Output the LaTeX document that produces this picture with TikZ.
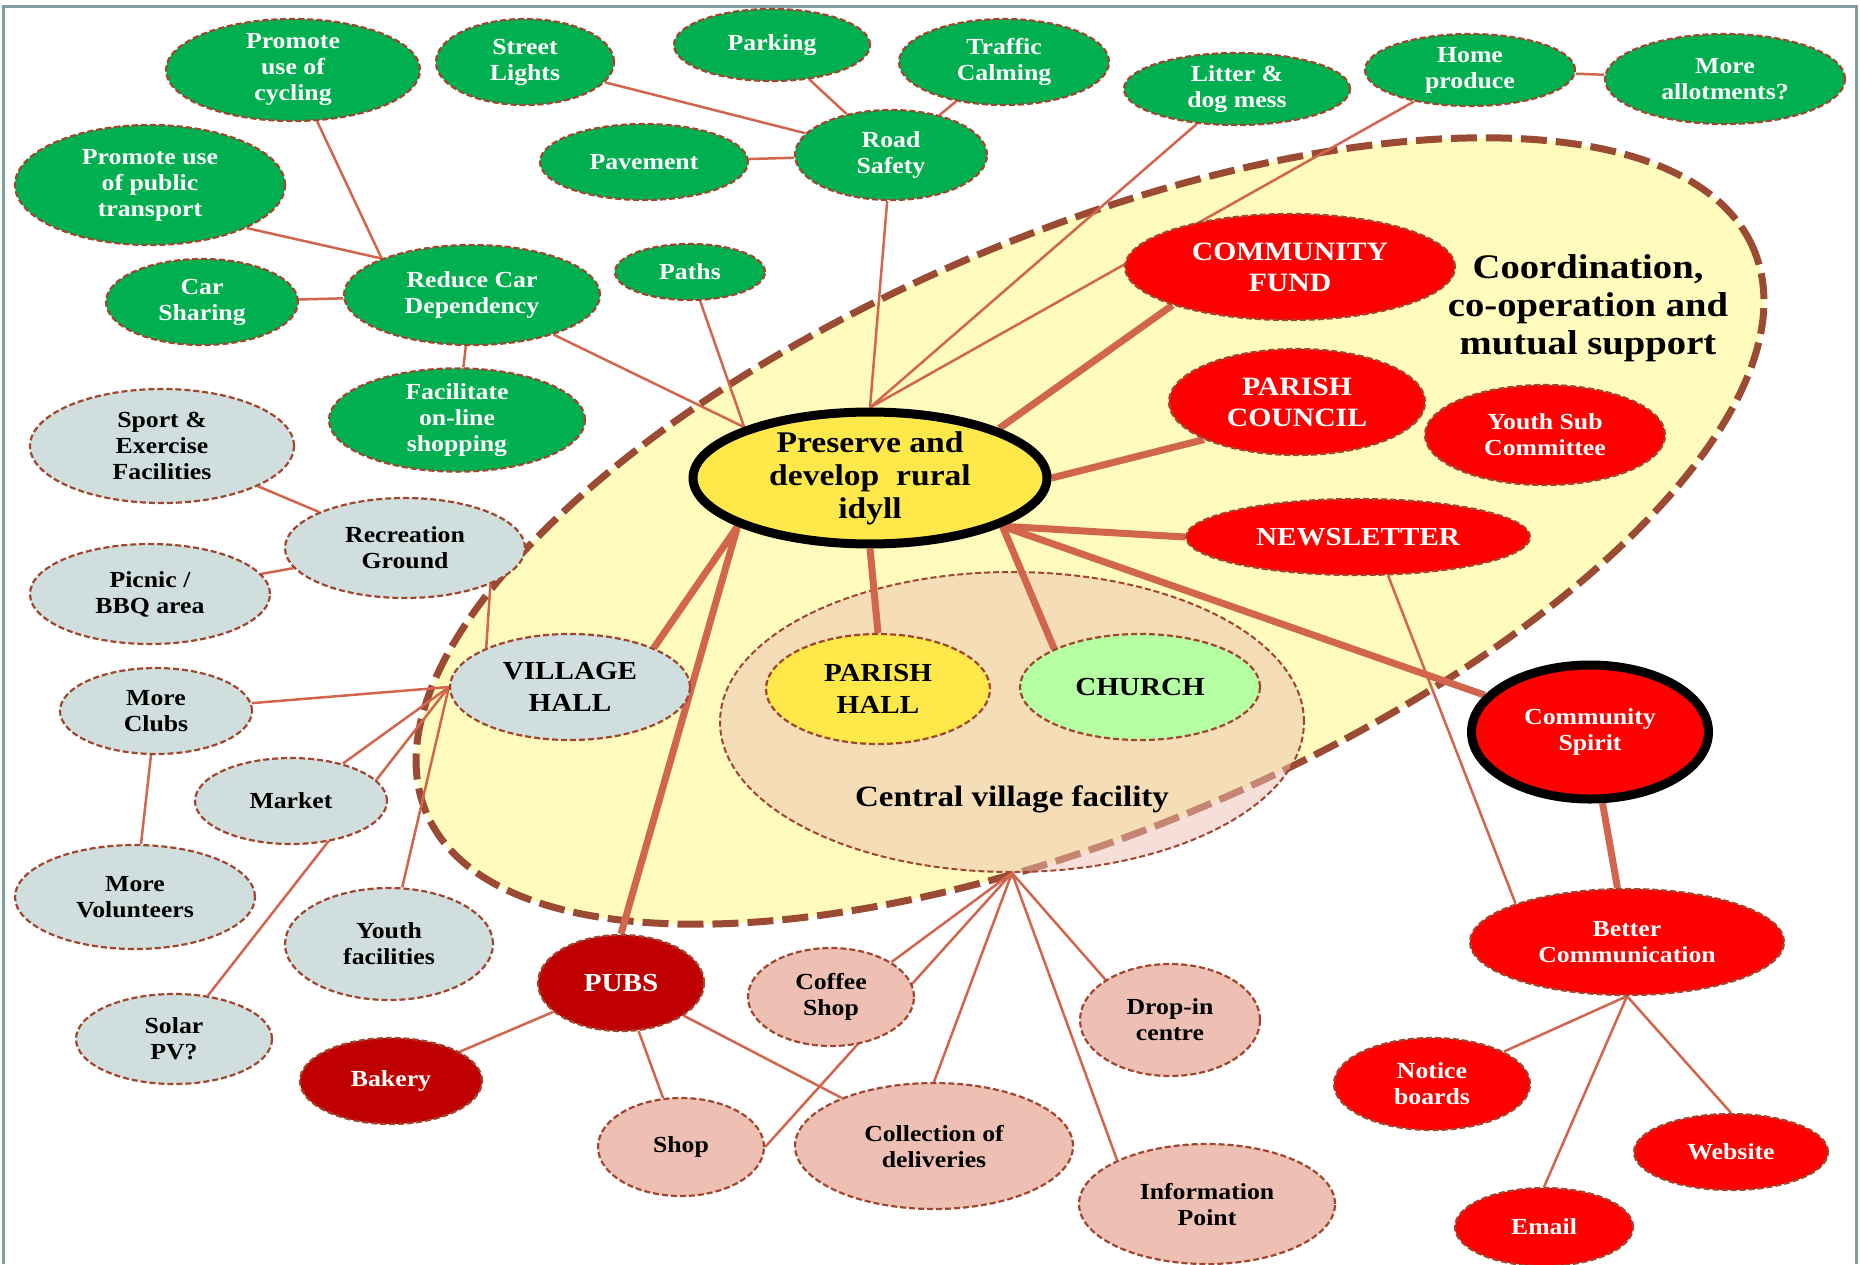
\documentclass[tikz,border=0pt]{standalone}
\usepackage{fontspec}
\setmainfont{Liberation Serif}[FakeStretch=1.12]
\usetikzlibrary{shapes.geometric}
\pgfdeclarelayer{bg}
\pgfdeclarelayer{edges}
\pgfsetlayers{bg,edges,main}
\definecolor{grn}{HTML}{00B050}
\definecolor{gry}{HTML}{D0DEDE}
\definecolor{rd}{HTML}{FF0000}
\definecolor{drd}{HTML}{C00000}
\definecolor{pnk}{HTML}{EDC0B3}
\definecolor{ylw}{HTML}{FFE84A}
\definecolor{chg}{HTML}{B6FFA2}
\definecolor{bord}{HTML}{A2452F}
\definecolor{conn}{HTML}{D2654D}
\definecolor{bigbord}{HTML}{9B4A34}
\definecolor{bigfill}{HTML}{FFFBBC}
\definecolor{frm}{HTML}{80A0A0}
\tikzset{
  fs/.style={font=\fontsize{23}{26}\selectfont\bfseries},
  fm/.style={font=\fontsize{26}{32}\selectfont\bfseries},
  fl/.style={font=\fontsize{26.5}{31}\selectfont\bfseries},
  bub/.style={ellipse, draw=bord, line width=2.2pt, dash pattern=on 6pt off 3pt,
    inner sep=0pt, align=center},
  gbub/.style={bub, fill=grn, text=white, fs},
  ybub/.style={bub, fill=gry, text=black, fs},
  rbub/.style={bub, fill=rd, text=white, fs},
  dbub/.style={bub, fill=drd, text=white, fs},
  pbub/.style={bub, fill=pnk, text=black, fs},
  sz/.style 2 args={minimum width=#1, minimum height=#2},
  thinc/.style={draw=conn, line width=2.5pt},
  thickc/.style={draw=conn, line width=7pt},
}
\begin{document}
\begin{tikzpicture}[x=1pt,y=-1pt]
\useasboundingbox (0,0) rectangle (1860,1264);

% ---------- nodes ----------
\node[gbub, sz={254}{100}] (cyc) at (293,70) {Promote\\use of\\cycling};
\node[gbub, sz={178}{86}] (stl) at (525,62) {Street\\Lights};
\node[gbub, sz={196}{72}] (park) at (772,45) {Parking};
\node[gbub, sz={210}{86}] (traf) at (1004,62) {Traffic\\Calming};
\node[gbub, sz={226}{72}] (litt) at (1237,89) {Litter \&\\dog mess};
\node[gbub, sz={210}{72}] (home) at (1470,70) {Home\\produce};
\node[gbub, sz={240}{90}] (allot) at (1725,79) {More\\allotments?};
\node[gbub, sz={208}{76}] (pave) at (644,162) {Pavement};
\node[gbub, sz={192}{90}] (road) at (891,155) {Road\\Safety};
\node[gbub, sz={270}{120}] (pub) at (150,185) {Promote use\\of public\\transport};
\node[gbub, sz={192}{86}] (cars) at (202,302) {Car\\Sharing};
\node[gbub, sz={256}{100}] (rcd) at (472,295) {Reduce Car\\Dependency};
\node[gbub, sz={150}{56}] (paths) at (690,272) {Paths};
\node[gbub, sz={256}{100}] (fac) at (457,420) {Facilitate\\on-line\\shopping};

\node[rbub, fl, sz={330}{106}] (cf) at (1290,267) {COMMUNITY\\FUND};
\node[align=center, font=\fontsize{34.5}{38}\selectfont\bfseries] (coord) at (1588,308)
  {Coordination,\\co-operation and\\mutual support};
\node[rbub, fl, sz={256}{106}] (pc) at (1297,402) {PARISH\\COUNCIL};
\node[rbub, sz={240}{100}] (ysc) at (1545,435) {Youth Sub\\Committee};
\node[ellipse, draw=black, line width=9pt, fill=ylw, inner sep=0pt, align=center,
  sz={354}{130}, font=\fontsize{30}{33}\selectfont\bfseries] (pres) at (870,478)
  {Preserve and\\develop\ \ rural\\idyll};
\node[rbub, fm, sz={344}{76}] (news) at (1358,537) {NEWSLETTER};

\node[ybub, sz={264}{114}] (sport) at (162,446) {Sport \&\\Exercise\\Facilities};
\node[ybub, sz={240}{100}] (rec) at (405,548) {Recreation\\Ground};
\node[ybub, sz={240}{100}] (picnic) at (150,594) {Picnic /\\BBQ area};
\node[ybub, fm, sz={240}{106}] (vh) at (570,687) {VILLAGE\\HALL};
\node[bub, fill=ylw, fm, sz={224}{110}] (ph) at (878,689) {PARISH\\HALL};
\node[bub, fill=chg, fm, sz={240}{106}] (church) at (1140,687) {CHURCH};
\node[ellipse, draw=black, line width=9pt, fill=rd, text=white, inner sep=0pt,
  align=center, fs, sz={237}{134}] (cs) at (1590,732) {Community\\Spirit};
\node[ybub, sz={192}{86}] (clubs) at (156,711) {More\\Clubs};
\node[ybub, sz={192}{86}] (market) at (291,801) {Market};
\node[font=\fontsize{29.5}{32}\selectfont\bfseries] (cvflab) at (1012,799) {Central village facility};
\node[ybub, sz={240}{104}] (vol) at (135,897) {More\\Volunteers};
\node[ybub, sz={208}{112}] (youth) at (389,944) {Youth\\facilities};
\node[dbub, fm, sz={166}{96}] (pubs) at (621,983) {PUBS};
\node[pbub, sz={166}{98}] (coffee) at (831,997) {Coffee\\Shop};
\node[pbub, sz={180}{112}] (drop) at (1170,1020) {Drop-in\\centre};
\node[rbub, sz={314}{106}] (bc) at (1627,942) {Better\\Communication};
\node[ybub, sz={196}{90}] (solar) at (174,1039) {Solar\\PV?};
\node[dbub, sz={182}{86}] (bakery) at (391,1081) {Bakery};
\node[pbub, sz={166}{98}] (shop) at (681,1147) {Shop};
\node[pbub, sz={278}{126}] (coll) at (934,1146) {Collection of\\deliveries};
\node[rbub, sz={196}{92}] (notice) at (1432,1084) {Notice\\boards};
\node[rbub, sz={194}{76}] (web) at (1731,1152) {Website};
\node[pbub, sz={256}{120}] (info) at (1207,1204) {Information\\Point};
\node[rbub, sz={178}{78}] (email) at (1544,1227) {Email};

% ---------- background regions ----------
\begin{pgfonlayer}{bg}
\fill[white] (0,0) rectangle (1860,1264);
\draw[frm, line width=3pt] (3,1264) -- (3,6) -- (1856,6) -- (1856,1264);
\node[ellipse, rotate=23, minimum width=1442, minimum height=596, inner sep=0pt,
  fill=bigfill, draw=bigbord, line width=7pt, dash pattern=on 26pt off 9pt] (big) at (1090,531) {};
\node[ellipse, minimum width=584, minimum height=300, inner sep=0pt,
  fill=pnk, fill opacity=0.5, draw=bord, line width=2pt, dash pattern=on 6pt off 3pt] (cvf) at (1012,722) {};
\end{pgfonlayer}

% ---------- connectors ----------
\begin{pgfonlayer}{edges}
\draw[thinc] (stl) -- (road);
\draw[thinc] (park) -- (road);
\draw[thinc] (traf) -- (road);
\draw[thinc] (pave) -- (road);
\draw[thinc] (road) -- (pres.north);
\draw[thinc] (litt) -- (pres.north);
\draw[thinc] (home) -- (pres.north);
\draw[thinc] (home) -- (allot);
\draw[thinc] (cyc) -- (rcd.158);
\draw[thinc] (pub.-24) -- (rcd.158);
\draw[thinc] (cars) -- (rcd);
\draw[thinc] (fac) -- (rcd);
\draw[thinc] (rcd) -- (pres.158);
\draw[thinc] (paths) -- (pres.158);
\draw[thinc] (sport) -- (rec);
\draw[thinc] (picnic) -- (rec);
\draw[thinc] (rec.-23) -- (vh.155);
\draw[thinc] (vh.west) -- (clubs);
\draw[thinc] (vh.west) -- (market);
\draw[thinc] (vh.west) -- (youth);
\draw[thinc] (vh.west) -- (solar);
\draw[thinc] (clubs) -- (vol);
\draw[thinc] (pubs) -- (bakery);
\draw[thinc] (pubs) -- (shop);
\draw[thinc] (pubs) -- (coll);
\draw[thinc] (cvf.south) -- (coffee.30);
\draw[thinc] (cvf.south) -- (shop.east);
\draw[thinc] (cvf.south) -- (coll.north);
\draw[thinc] (cvf.south) -- (drop.148);
\draw[thinc] (cvf.south) -- (info.154);
\draw[thinc] (news.-52) -- (bc.161);
\draw[thinc] (bc.south) -- (notice);
\draw[thinc] (bc.south) -- (email.north);
\draw[thinc] (bc.south) -- (web.north);
\draw[thickc] (pres.21) -- (cf.198);
\draw[thickc] (pres.east) -- (pc.202);
\draw[thickc] (pres.-20) -- (news.west);
\draw[thickc] (pres.-20) -- (cs);
\draw[thickc] (pres.-20) -- (church.156);
\draw[thickc] (pres.south) -- (ph.north);
\draw[thickc] (pres.200) -- (vh.25);
\draw[thickc] (pres.200) -- (pubs.north);
\draw[thickc] (cs) -- (bc);
\end{pgfonlayer}
\end{tikzpicture}
\end{document}
